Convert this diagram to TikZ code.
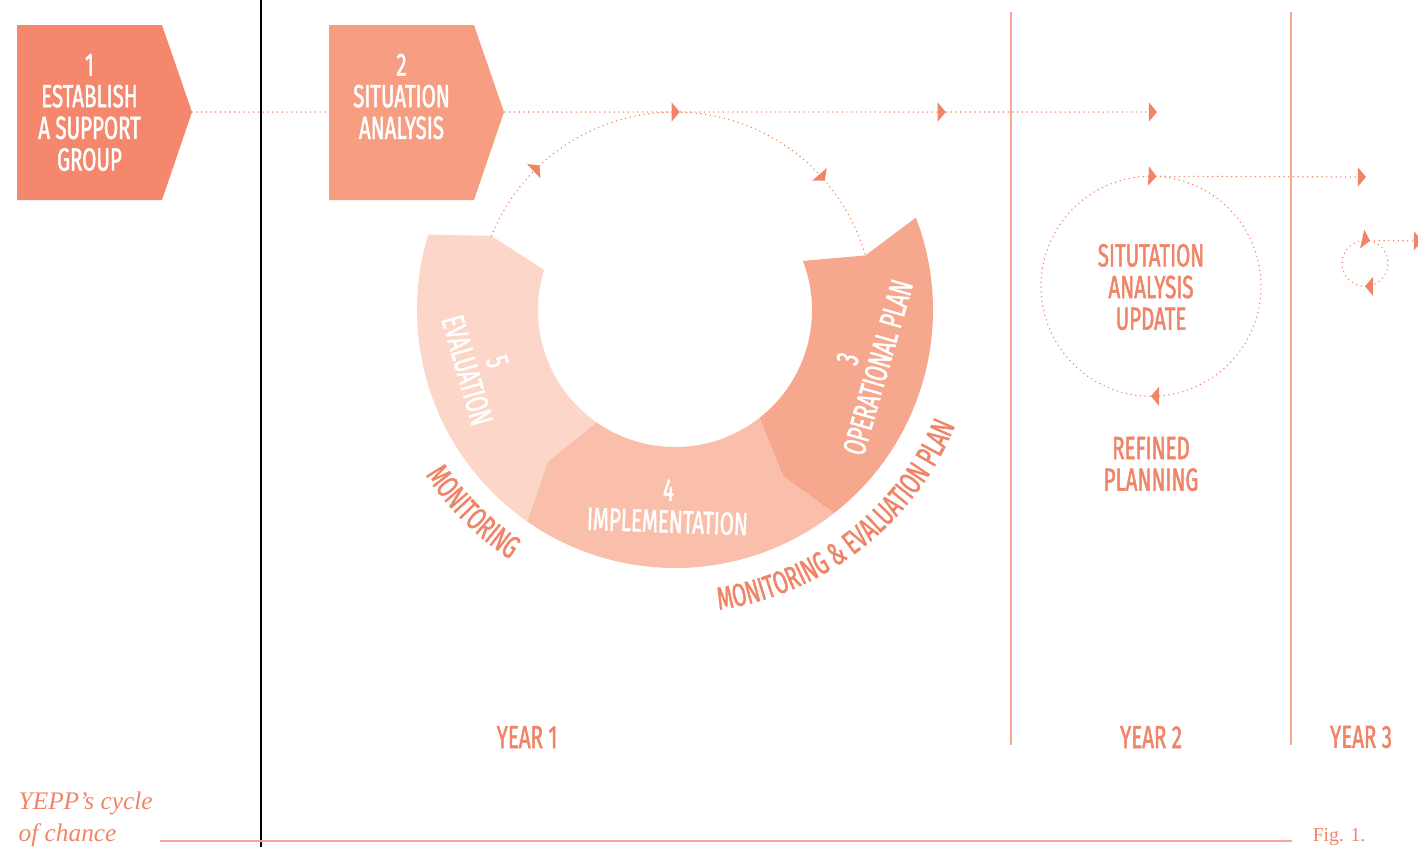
\documentclass[tikz,border=0pt]{standalone}
\usepackage{fontspec}
\newfontfamily\cond[FakeStretch=0.64,FakeBold=1.5]{Fira Sans}
\newfontfamily\capserif{Liberation Serif}
\usetikzlibrary{arrows.meta,calc,decorations.markings,decorations.text}
\definecolor{salmon}{HTML}{F08467}
\definecolor{stepone}{HTML}{F5876D}
\definecolor{steptwo}{HTML}{F69D82}
\definecolor{stepthree}{HTML}{F6A88E}
\definecolor{stepfour}{HTML}{F9BFAA}
\definecolor{stepfive}{HTML}{FCD7C9}
\definecolor{rulecol}{HTML}{F6A590}
\newcommand\caps{\cond\fontsize{9.1}{9}\selectfont}
\tikzset{
  dots/.style={draw=salmon,line width=0.45pt,line cap=round,dash pattern=on 0pt off 1.35pt},
  tri/.tip={Triangle[length=2.3pt,width=5.4pt]},
  arrowat/.style={postaction={decorate,decoration={markings,mark=at position #1 with {\arrow{tri}}}}},
  white lbl/.style={text=white,align=center,font=\caps},
  pink lbl/.style={text=salmon,align=center,font=\caps}
}
\begin{document}
\begin{tikzpicture}[x=0.01cm,y=0.01cm]
  \useasboundingbox (0,0) rectangle (1418,-847);

  \draw[black,line width=0.4pt] (261,0) -- (261,-847);
  \foreach \x in {1011,1291}
    \draw[rulecol,line width=0.5pt] (\x,-12) -- (\x,-745);
  \draw[rulecol,line width=0.7pt] (160,-841) -- (1292,-841);

  % steps 1 and 2
  \foreach \x/\c in {17/stepone,329/steptwo}
    \fill[\c] (\x,-25) -- ++(145,0) -- ++(30,-87) -- ++(-30,-88) -- ++(-145,0) -- cycle;
  \node[white lbl] (establish) at (89.5,-112.5) {1\\ESTABLISH\\A SUPPORT\\GROUP};
  \node[white lbl] (situation) at (401.5,-96.5) {2\\SITUATION\\ANALYSIS};
  \coordinate (establish tip) at (192,-112);
  \coordinate (situation in) at (329,-112);
  \coordinate (situation tip) at (505,-112);
  \coordinate (next year) at (1157,-112);

  % the cycle
  \coordinate (C) at (675,-310);
  \def\Rout{258}
  \def\Rin{137}
  \def\Rmid{198}
  \foreach \a/\b/\c in {21/-52/stepthree,-52/-125/stepfour,-125/-197/stepfive}
    \fill[\c] ($(C)+(\a:\Rout)$) arc[start angle=\a,end angle=\b,radius=\Rout]
      -- ($(C)+(\b-5:\Rmid)$) -- ($(C)+(\b:\Rin)$)
      arc[start angle=\b,end angle=\a,radius=\Rin] -- ($(C)+(\a-5:\Rmid)$) -- cycle;
  \node[white lbl,rotate=74] (plan) at (863,-363) {3\\OPERATIONAL PLAN};
  \node[white lbl,rotate=-2] (implementation) at (668,-506) {4\\IMPLEMENTATION};
  \node[white lbl,rotate=-74] (evaluation) at (482,-366) {5\\EVALUATION};
  \draw[dots,arrowat=0.175,arrowat=0.825] ($(C)+(158:\Rmid)$) arc[start angle=158,end angle=16,radius=\Rmid];

  \path[decorate,decoration={text along path,text align=center,
    text={|\caps\color{salmon}|MONITORING}}]
    ($(C)+(-165:299)$) arc[start angle=-165,end angle=-105,radius=299];
  \path[decorate,decoration={text along path,text align=center,
    text={|\caps\color{salmon}|MONITORING {\&} EVALUATION PLAN}}]
    ($(C)+(-92:303)$) arc[start angle=-92,end angle=-12,radius=303];

  \draw[dots] (establish tip) -- (situation in);
  \draw[dots,arrowat=0.268,arrowat=0.676,-tri] (situation tip) -- (next year);

  % year 2 and 3
  \node[pink lbl,circle,minimum size=2.2cm] (update) at (1151,-287) {SITUTATION\\ANALYSIS\\UPDATE};
  \node[pink lbl] (refined) at (1151,-464) {REFINED\\PLANNING};
  \draw[dots,arrowat=0.008,arrowat=0.5] (update.north) arc[start angle=90,end angle=-270,radius=110];
  \coordinate (year3 top) at (1366,-177);
  \draw[dots,-tri] (update.north) -- (year3 top);

  \node[circle,minimum size=0.46cm,inner sep=0pt] (loop) at (1365,-264) {};
  \draw[dots,arrowat=0.035,arrowat=0.5] (loop.north) arc[start angle=90,end angle=-270,radius=23];
  \coordinate (far) at (1422,-241);
  \draw[dots,-tri] (loop.north) -- (far);

  \foreach \x/\n in {527/1,1151/2,1361/3}
    \node[pink lbl] (year\n) at (\x,-737) {YEAR \n};

  \node[font=\capserif\itshape\fontsize{7.2}{9.1}\selectfont,text=salmon,align=left,anchor=north west,inner sep=0pt] (caption) at (18,-791) {YEPP’s cycle\\of chance};
  \node[font=\capserif\fontsize{5.6}{6}\selectfont,text=salmon] (fig) at (1339,-837) {Fig. 1.};
\end{tikzpicture}
\end{document}
